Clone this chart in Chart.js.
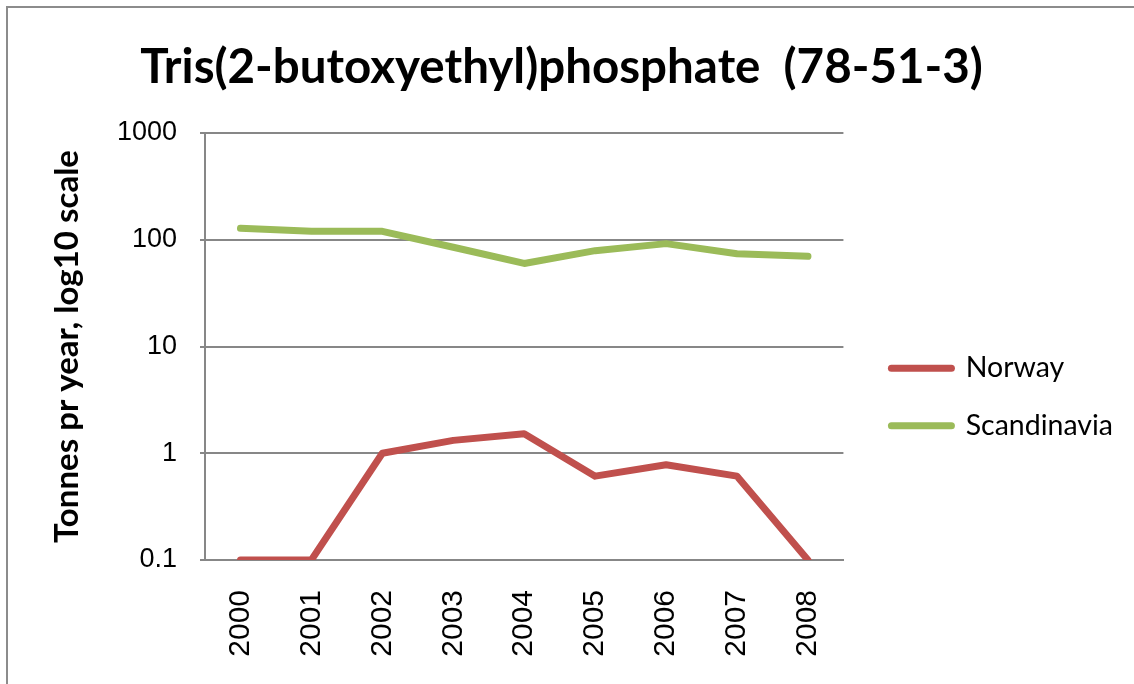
<!DOCTYPE html>
<html>
<head>
<meta charset="utf-8">
<script src="https://cdn.jsdelivr.net/npm/chart.js@4/dist/chart.umd.min.js"></script>
<style>
  body { margin: 0; background: #fff; }
  #wrap { width: 1134px; height: 684px; }
</style>
</head>
<body>
<div id="wrap"><canvas id="myChart" width="1134" height="684"></canvas></div>
<script>
// data block
const years = ['2000', '2001', '2002', '2003', '2004', '2005', '2006', '2007', '2008'];
const norway = [0.1, 0.1, 1.0, 1.32, 1.52, 0.61, 0.78, 0.61, 0.1];
const scandinavia = [128, 120, 120, 85, 60, 79, 92, 74, 70];
const yTicks = [0.1, 1, 10, 100, 1000];

const RED = '#C0504D';
const GREEN = '#9BBB59';
const GREY = '#878787';
const LEGEND_GAP = 19; // extra room between plot and legend

// frame round the chart, like the Excel chart border
const framePlugin = {
    id: 'frame',
    beforeDraw(chart) {
        const c = chart.ctx;
        c.save();
        c.fillStyle = '#fff';
        c.fillRect(0, 0, chart.width, chart.height);
        c.strokeStyle = '#8c8c8c';
        c.lineWidth = 2;
        c.beginPath();
        c.moveTo(7, chart.height);
        c.lineTo(7, 7);
        c.lineTo(chart.width, 7);
        c.stroke();
        c.restore();
    }
};

// widen the legend box on its left side only
const legendGapPlugin = {
    id: 'legendGap',
    beforeLayout(chart) {
        const lg = chart.legend;
        if (lg && !lg._gapPatched) {
            const fit = lg.fit;
            lg.fit = function () {
                fit.call(this);
                this.width += LEGEND_GAP;
            };
            lg._gapPatched = true;
        }
    },
    afterLayout(chart) {
        if (chart.legend) chart.legend.left += LEGEND_GAP;
    }
};

const config = {
    type: 'line',
    data: {
        labels: years,
        datasets: [
            { label: 'Norway', data: norway, borderColor: RED, backgroundColor: RED },
            { label: 'Scandinavia', data: scandinavia, borderColor: GREEN, backgroundColor: GREEN }
        ]
    },
    options: {
        responsive: false,
        animation: false,
        layout: { padding: { right: 11 } },
        elements: {
            line: { borderWidth: 7, borderCapStyle: 'round', borderJoinStyle: 'round', tension: 0 },
            point: { radius: 0, hoverRadius: 0 }
        },
        plugins: {
            title: {
                display: true,
                text: 'Tris(2-butoxyethyl)phosphate  (78-51-3)',
                color: '#000',
                font: { family: 'Lato', size: 47.5, weight: 'bold' },
                padding: { top: 39, bottom: 37 }
            },
            legend: {
                position: 'right',
                // empty legend title only pushes the items down
                title: { display: true, text: ' ', font: { size: 10 }, padding: { top: 49, bottom: 49 } },
                labels: {
                    usePointStyle: true,
                    pointStyle: 'line',
                    pointStyleWidth: 60,
                    boxHeight: 7,
                    padding: 29,
                    color: '#000',
                    font: { family: 'Lato', size: 28.5 },
                    generateLabels(chart) {
                        return chart.data.datasets.map((ds, i) => ({
                            text: ds.label,
                            fillStyle: ds.borderColor,
                            strokeStyle: ds.borderColor,
                            fontColor: '#000',
                            lineWidth: 7,
                            lineCap: 'round',
                            pointStyle: 'line',
                            datasetIndex: i
                        }));
                    }
                }
            },
            tooltip: { enabled: false }
        },
        scales: {
            x: {
                offset: true,
                grid: { display: false, offset: true },
                border: { display: true, color: GREY, width: 2 },
                ticks: {
                    color: '#000',
                    font: { family: 'Liberation Sans', size: 30 },
                    minRotation: 90,
                    maxRotation: 90,
                    padding: 22
                },
                afterFit(scale) { scale.height = 124; }
            },
            y: {
                type: 'logarithmic',
                min: 0.1,
                max: 1000,
                afterBuildTicks(scale) {
                    scale.ticks = yTicks.map(v => ({ value: v }));
                },
                ticks: {
                    color: '#000',
                    font: { family: 'Liberation Sans', size: 27 },
                    padding: 23,
                    callback: v => String(v)
                },
                grid: { color: GREY, lineWidth: 2, tickLength: 5 },
                border: { display: true, color: GREY, width: 2 },
                title: {
                    display: true,
                    text: 'Tonnes pr year, log10 scale',
                    color: '#000',
                    font: { family: 'Lato', size: 33, weight: 'bold' },
                    padding: { top: 48, bottom: 0 }
                },
                afterFit(scale) { scale.width = 205; }
            }
        }
    },
    plugins: [framePlugin, legendGapPlugin]
};

// init render block
const ctx = document.getElementById('myChart');
const myChart = new Chart(ctx, config);
</script>
</body>
</html>
